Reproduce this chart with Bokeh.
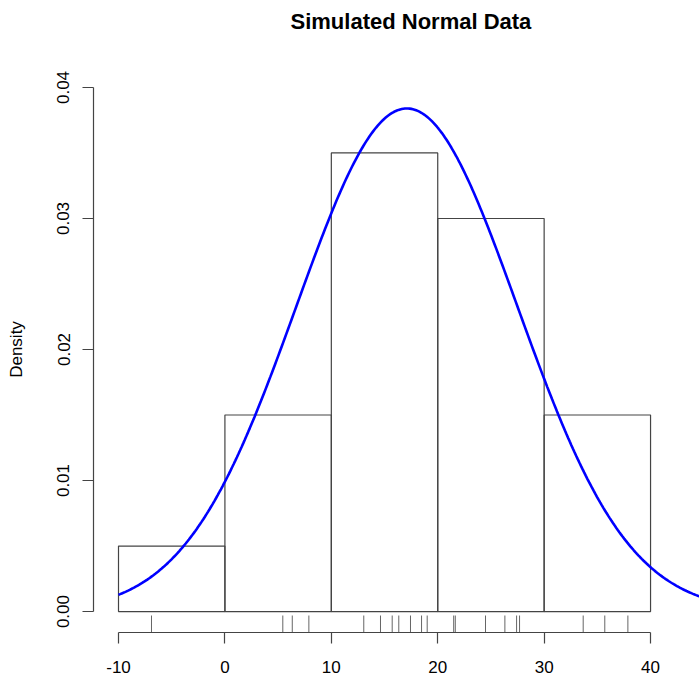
import numpy as np
from bokeh.plotting import figure
from bokeh.models import Range1d, FixedTicker, PrintfTickFormatter, Title
from bokeh.embed import file_html
from bokeh.resources import INLINE

# ---- data ----
bin_edges = [-10, 0, 10, 20, 30, 40]
densities = [0.005, 0.015, 0.035, 0.030, 0.015]
rug_values = [-6.90, 5.44, 6.33, 7.89, 13.05, 14.62, 15.72, 16.34, 17.44,
              18.48, 19.01, 21.50, 21.65, 24.49, 26.31, 27.41, 27.69,
              33.67, 35.70, 37.87]
curve_mean = 17.1
curve_sd = 10.39
x_ticks = [-10, 0, 10, 20, 30, 40]
y_ticks = [0.00, 0.01, 0.02, 0.03, 0.04]

FONT = "Liberation Sans"

x_lo, x_hi = -12.35, 44.6
y_lo, y_hi = -0.0016, 0.0416

p = figure(width=699, height=675, output_backend="svg", toolbar_location=None,
           x_range=Range1d(x_lo, x_hi), y_range=Range1d(y_lo, y_hi),
           min_border_left=93, min_border_right=0, min_border_bottom=43,
           min_border_top=66, title="Simulated Normal Data")
p.outline_line_color = None
p.grid.visible = False
p.background_fill_color = "white"

# title
p.title.text_font = FONT
p.title.text_font_size = "22px"
p.title.text_font_style = "bold"
p.title.text_color = "black"
p.title.align = "left"
p.title.offset = 197
p.title.standoff = 12

# spacer between title and plot area
p.add_layout(Title(text=" ", text_font_size="1px", standoff=24), "above")

# histogram bars
p.quad(left=bin_edges[:-1], right=bin_edges[1:], bottom=0, top=densities,
       fill_color=None, line_color="#444444", line_width=1.2)

# normal density curve
xs = np.linspace(bin_edges[0], 50, 400)
ys = np.exp(-0.5 * ((xs - curve_mean) / curve_sd) ** 2) / (curve_sd * np.sqrt(2 * np.pi))
p.line(xs, ys, line_color="#0000FF", line_width=2.6)

# rug
rug_len = 0.03 * (y_hi - y_lo)
p.segment(x0=rug_values, x1=rug_values, y0=[y_lo] * len(rug_values),
          y1=[y_lo + rug_len] * len(rug_values), line_color="#666666", line_width=1)

# axes
xa = p.xaxis[0]
xa.bounds = (x_ticks[0], x_ticks[-1])
xa.ticker = FixedTicker(ticks=x_ticks)
xa.formatter = PrintfTickFormatter(format="%d")
ya = p.yaxis[0]
ya.bounds = (y_ticks[0], y_ticks[-1])
ya.ticker = FixedTicker(ticks=y_ticks)
ya.formatter = PrintfTickFormatter(format="%.2f")
ya.major_label_orientation = "vertical"
ya.axis_label = "Density"

for ax in (xa, ya):
    ax.axis_line_color = "#444444"
    ax.axis_line_width = 1.2
    ax.major_tick_line_color = "#444444"
    ax.major_tick_line_width = 1.2
    ax.major_tick_out = 11
    ax.major_tick_in = 0
    ax.minor_tick_line_color = None
    ax.major_label_text_font = FONT
    ax.major_label_text_font_size = "17px"
    ax.major_label_text_color = "black"
    ax.axis_label_text_font = FONT
    ax.axis_label_text_font_size = "17px"
    ax.axis_label_text_font_style = "normal"
    ax.axis_label_text_color = "black"

xa.major_label_text_line_height = 0.9
xa.major_label_standoff = 17
ya.major_label_standoff = 13
ya.axis_label_standoff = 29

open("out.html", "w").write(file_html(p, INLINE))
